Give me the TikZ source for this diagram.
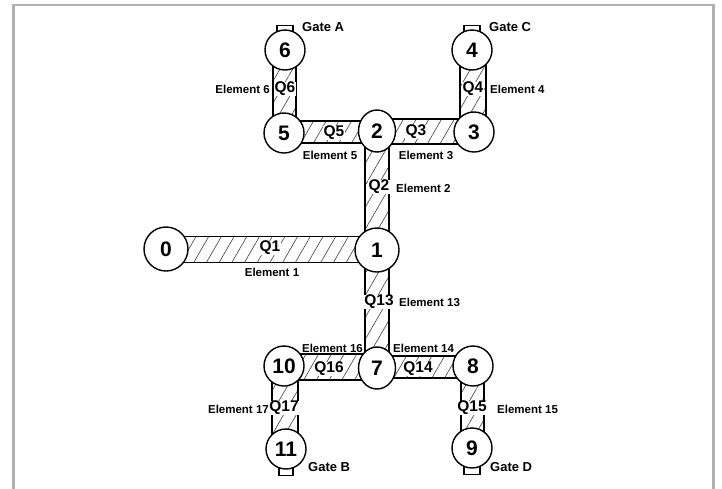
\documentclass[tikz,border=0pt]{standalone}
\usepackage{fontspec}
\setmainfont{Liberation Sans}
\usetikzlibrary{patterns.meta,shapes.geometric,backgrounds}
\definecolor{framegray}{RGB}{176,176,176}
\tikzset{
  pnode/.style={circle, draw, line width=1.4pt, fill=white, minimum size=40pt, inner sep=0pt,
    font=\bfseries\fontsize{21}{21}\selectfont},
  bignode/.style={pnode, minimum size=44pt},
  ovnode/.style={pnode, ellipse, minimum width=37pt, minimum height=42pt},
  elem/.style={draw, line width=1.4pt, preaction={fill=white},
    pattern={Lines[angle=60,distance=11pt,line width=0.6pt]}, pattern color=black!75},
  gatebox/.style={draw, line width=1.2pt, fill=white},
  qlab/.style={fill=white, inner sep=0.5pt, font=\bfseries\fontsize{15.5}{15.5}\selectfont},
  elab/.style={inner sep=0pt, font=\bfseries\fontsize{11.5}{11.5}\selectfont},
  glab/.style={inner sep=0pt, anchor=west, font=\bfseries\fontsize{13}{13}\selectfont},
}
\begin{document}
\begin{tikzpicture}[x=1pt,y=1pt]
\useasboundingbox (0,0) rectangle (722,-488);
\draw[framegray, line width=2.6pt] (13.5,-520) -- (13.5,-5) -- (713.5,-5) -- (713.5,-520);

% junction nodes
\node[pnode] (n6) at (285,-50) {6};
\node[pnode] (n5) at (284,-133) {5};
\node[ovnode] (n2) at (377,-131) {2};
\node[pnode] (n3) at (474,-132) {3};
\node[pnode] (n4) at (472,-50) {4};
\node[bignode] (n0) at (166,-249) {0};
\node[bignode] (n1) at (377,-250) {1};
\node[ovnode] (n7) at (377,-368) {7};
\node[pnode] (n10) at (284,-366) {10};
\node[pnode] (n8) at (473,-366) {8};
\node[pnode] (n11) at (286,-449) {11};
\node[pnode] (n9) at (472,-448) {9};

\begin{pgfonlayer}{background}
% elements
\draw[elem] ([xshift=-12pt]n6.center) rectangle ([xshift=12pt]n5.center);
\draw[elem] ([yshift=12pt]n5.center) rectangle ([yshift=-12pt]n2.center);
\draw[elem] ([yshift=12pt]n2.center) rectangle ([yshift=-12pt]n3.center);
\draw[elem] ([xshift=-12pt]n4.center) rectangle ([xshift=12pt]n3.center);
\draw[elem] ([xshift=-12pt]n2.center) rectangle ([xshift=12pt]n1.center);
\draw[elem] ([yshift=12.5pt]n0.center) rectangle ([yshift=-12.5pt]n1.center);
\draw[elem] ([xshift=-12pt]n1.center) rectangle ([xshift=12pt]n7.center);
\draw[elem] ([yshift=12pt]n10.center) rectangle ([yshift=-12pt]n7.center);
\draw[elem] ([yshift=12pt]n7.center) rectangle ([yshift=-12pt]n8.center);
\draw[elem] ([xshift=-12pt]n10.center) rectangle ([xshift=12pt]n11.center);
\draw[elem] ([xshift=-12pt]n8.center) rectangle ([xshift=12pt]n9.center);
% gates
\draw[gatebox] ([xshift=-8pt,yshift=-3pt]n6.north) rectangle ([xshift=8pt,yshift=4pt]n6.north);
\draw[gatebox] ([xshift=-8pt,yshift=-3pt]n4.north) rectangle ([xshift=8pt,yshift=4pt]n4.north);
\draw[gatebox] ([xshift=-7pt,yshift=3pt]n11.south) rectangle ([xshift=7pt,yshift=-6pt]n11.south);
\draw[gatebox] ([xshift=-8pt,yshift=3pt]n9.south) rectangle ([xshift=8pt,yshift=-6pt]n9.south);
\end{pgfonlayer}

% Q labels
\node[qlab] (q6) at (285,-89) {Q6};
\node[qlab] (q5) at (334,-133) {Q5};
\node[qlab] (q3) at (416,-132) {Q3};
\node[qlab] (q4) at (473,-89) {Q4};
\node[qlab] (q2) at (379,-187) {Q2};
\node[qlab] (q1) at (270,-248) {Q1};
\node[qlab] (q13) at (379,-302) {Q13};
\node[qlab] (q16) at (329,-369) {Q16};
\node[qlab] (q14) at (418,-369) {Q14};
\node[qlab] (q17) at (284,-408) {Q17};
\node[qlab] (q15) at (472,-408) {Q15};

% element labels
\node[elab, anchor=east] (e6) at (270,-89) {Element 6};
\node[elab] (e5) at (330,-155) {Element 5};
\node[elab] (e3) at (426,-155) {Element 3};
\node[elab, anchor=west] (e4) at (490,-89) {Element 4};
\node[elab, anchor=west] (e2) at (396,-188) {Element 2};
\node[elab] (e1) at (272,-272) {Element 1};
\node[elab, anchor=west] (e13) at (399,-302) {Element 13};
\node[elab, anchor=east] (e16) at (363,-348) {Element 16};
\node[elab, anchor=west] (e14) at (393,-348) {Element 14};
\node[elab, anchor=east] (e17) at (269,-409) {Element 17};
\node[elab, anchor=west] (e15) at (497,-409) {Element 15};

% gate labels
\node[glab] (ga) at (302,-27) {Gate A};
\node[glab] (gc) at (489,-27) {Gate C};
\node[glab] (gb) at (308,-467) {Gate B};
\node[glab] (gd) at (490,-467) {Gate D};
\end{tikzpicture}
\end{document}
